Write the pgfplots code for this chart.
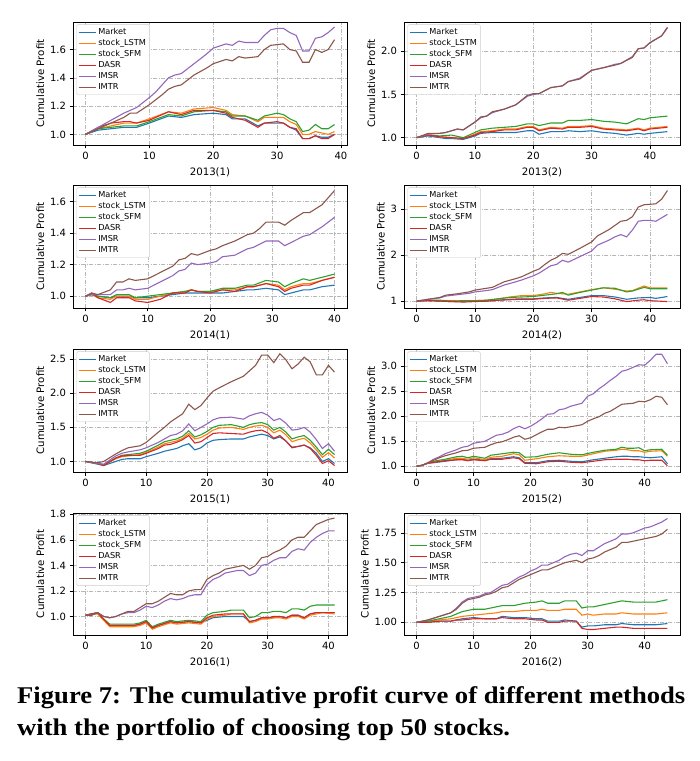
\documentclass[border=0pt]{standalone}
\usepackage{fontspec}
\setmainfont{DejaVu Sans}
\newfontfamily\capfont{Liberation Serif}
\usepackage{pgfplots}
\pgfplotsset{compat=1.18}
\definecolor{c0}{HTML}{1F77B4}
\definecolor{c1}{HTML}{FF7F0E}
\definecolor{c2}{HTML}{2CA02C}
\definecolor{c3}{HTML}{D62728}
\definecolor{c4}{HTML}{9467BD}
\definecolor{c5}{HTML}{8C564B}
\pgfplotsset{
  panel/.style={
    scale only axis, anchor=north west,
    width=274pt, height=123pt,
    xtick={0,10,20,30,40},
    grid=major,
    grid style={dash pattern=on 4pt off 1.5pt on 1pt off 1.5pt, black!28, line width=0.45pt},
    axis line style={line width=0.7pt},
    tick align=outside, tick pos=left, major tick length=3.5pt,
    tick style={black, line width=0.6pt},
    tick label style={font=\fontsize{10}{12}\selectfont},
    label style={font=\fontsize{10.2}{12}\selectfont},
    /pgf/number format/assume math mode=true,
    ylabel={Cumulative Profit},
    ylabel style={yshift=-1pt},
    xlabel style={yshift=-1.5pt},
    legend cell align=left,
    legend style={at={(0.012,0.98)}, anchor=north west, font=\fontsize{8.2}{9.4}\selectfont,
      draw=black!20, rounded corners=1.5pt, fill=white,
      row sep=-0.6pt, inner sep=1.6pt},
    every axis plot/.append style={line width=1.1pt, mark=none},
  },
  y1/.style={yticklabel style={/pgf/number format/.cd, fixed, fixed zerofill, precision=1}},
  y2/.style={yticklabel style={/pgf/number format/.cd, fixed, fixed zerofill, precision=2}},
}
\newcommand{\leg}{\legend{Market,stock\_LSTM,stock\_SFM,DASR,IMSR,IMTR}}
\begin{document}
\begin{tikzpicture}[x=1pt,y=1pt]
\path[use as bounding box] (0,0) rectangle (700,-761);

% ---------------- 2013(1)
\begin{axis}[panel, y1, at={(73pt,-22pt)}, xmin=-1.95, xmax=40.95, ymin=0.925, ymax=1.795,
  ytick={1.0,1.2,1.4,1.6}, xlabel={2013(1)}]
\addplot[color=c0] coordinates {(0,1.0)(2,1.03)(4,1.04)(6,1.05)(8,1.05)(10,1.08)(13,1.13)(15,1.12)(17,1.14)(20,1.15)(22,1.14)(23,1.11)(25,1.11)(27,1.06)(28,1.08)(30,1.08)(31,1.08)(32,1.05)(33,1.03)(34,0.97)(35,0.97)(36,0.99)(37,0.98)(38,0.98)(39,1.00)};
\addplot[color=c1] coordinates {(0,1.0)(2,1.04)(4,1.06)(6,1.08)(8,1.08)(10,1.11)(13,1.16)(15,1.15)(17,1.18)(20,1.19)(22,1.17)(23,1.14)(25,1.13)(27,1.09)(28,1.12)(30,1.12)(31,1.12)(32,1.09)(33,1.07)(34,1.00)(35,1.00)(36,1.02)(37,1.01)(38,1.00)(39,1.02)};
\addplot[color=c2] coordinates {(0,1.0)(2,1.04)(4,1.05)(6,1.06)(8,1.06)(10,1.09)(13,1.14)(15,1.13)(17,1.16)(20,1.17)(22,1.16)(23,1.13)(25,1.13)(27,1.10)(28,1.13)(30,1.15)(31,1.14)(32,1.11)(33,1.09)(34,1.02)(35,1.03)(36,1.07)(37,1.04)(38,1.04)(39,1.07)};
\addplot[color=c3] coordinates {(0,1.0)(2,1.05)(4,1.08)(6,1.09)(7,1.09)(8,1.08)(10,1.10)(13,1.16)(15,1.14)(17,1.17)(20,1.17)(22,1.15)(23,1.12)(25,1.10)(27,1.05)(28,1.08)(30,1.09)(31,1.08)(32,1.05)(33,1.04)(34,0.97)(35,0.97)(36,0.99)(37,0.97)(38,0.97)(39,1.00)};
\addplot[color=c4] coordinates {(0,1.0)(2,1.05)(4,1.10)(6,1.15)(8,1.19)(10,1.26)(11,1.30)(13,1.40)(14,1.42)(15,1.43)(17,1.50)(19,1.57)(20,1.61)(22,1.64)(23,1.63)(24,1.66)(25,1.65)(27,1.65)(28,1.70)(29,1.74)(30,1.75)(31,1.75)(32,1.72)(33,1.70)(34,1.59)(35,1.59)(36,1.68)(37,1.69)(38,1.72)(39,1.76)};
\addplot[color=c5] coordinates {(0,1.0)(2,1.04)(4,1.08)(6,1.12)(7,1.15)(8,1.15)(10,1.21)(12,1.28)(13,1.32)(14,1.34)(15,1.35)(17,1.42)(19,1.47)(20,1.50)(22,1.53)(23,1.52)(24,1.55)(25,1.54)(27,1.55)(28,1.60)(29,1.63)(31,1.64)(32,1.60)(33,1.59)(34,1.51)(35,1.51)(36,1.60)(37,1.58)(38,1.60)(39,1.67)};
\leg
\end{axis}

% ---------------- 2013(2)
\begin{axis}[panel, y1, at={(404pt,-22pt)}, width=276pt, xmin=-2.15, xmax=45.15, ymin=0.915, ymax=2.34,
  ytick={1.0,1.5,2.0}, xlabel={2013(2)}]
\addplot[color=c0] coordinates {(0,1.0)(2,1.02)(4,1.00)(5,0.99)(6,0.99)(8,0.98)(10,1.02)(11,1.05)(13,1.06)(15,1.06)(17,1.06)(19,1.08)(20,1.08)(21,1.04)(23,1.07)(25,1.07)(26,1.08)(28,1.07)(30,1.08)(32,1.06)(34,1.05)(36,1.03)(38,1.05)(39,1.04)(40,1.05)(43,1.07)};
\addplot[color=c1] coordinates {(0,1.0)(2,1.03)(4,1.01)(6,1.00)(8,0.99)(10,1.04)(11,1.07)(13,1.08)(15,1.10)(17,1.10)(19,1.13)(20,1.13)(21,1.09)(23,1.12)(25,1.11)(26,1.13)(28,1.13)(30,1.14)(32,1.11)(34,1.10)(36,1.09)(38,1.11)(39,1.09)(40,1.11)(43,1.13)};
\addplot[color=c2] coordinates {(0,1.0)(2,1.03)(4,1.02)(6,1.03)(8,1.00)(10,1.06)(11,1.09)(13,1.11)(15,1.12)(17,1.13)(19,1.16)(20,1.16)(21,1.14)(23,1.17)(25,1.17)(26,1.20)(28,1.20)(30,1.21)(32,1.19)(34,1.18)(36,1.16)(38,1.22)(39,1.21)(40,1.23)(43,1.25)};
\addplot[color=c3] coordinates {(0,1.0)(2,1.03)(4,1.01)(6,1.00)(8,0.99)(10,1.03)(11,1.06)(13,1.07)(15,1.09)(17,1.09)(19,1.12)(20,1.12)(21,1.08)(23,1.11)(25,1.10)(26,1.12)(28,1.12)(30,1.13)(32,1.10)(34,1.09)(36,1.08)(38,1.10)(39,1.08)(40,1.10)(43,1.12)};
\addplot[color=c4] coordinates {(0,1.0)(2,1.04)(4,1.05)(5,1.06)(7,1.10)(8,1.09)(10,1.18)(11,1.23)(12,1.25)(13,1.29)(15,1.33)(17,1.38)(19,1.48)(20,1.50)(21,1.51)(23,1.58)(25,1.60)(26,1.65)(28,1.69)(30,1.78)(32,1.81)(34,1.85)(35,1.86)(37,1.94)(38,2.03)(39,2.04)(40,2.10)(42,2.18)(43,2.27)};
\addplot[color=c5] coordinates {(0,1.0)(2,1.05)(4,1.05)(5,1.06)(7,1.10)(8,1.09)(10,1.18)(11,1.24)(12,1.25)(13,1.30)(15,1.33)(17,1.38)(19,1.49)(20,1.51)(21,1.51)(23,1.58)(25,1.60)(26,1.65)(28,1.68)(30,1.78)(32,1.81)(34,1.84)(35,1.86)(37,1.93)(38,2.03)(39,2.04)(40,2.10)(42,2.18)(43,2.28)};
\leg
\end{axis}

% ---------------- 2014(1)
\begin{axis}[panel, y1, at={(73pt,-185pt)}, xmin=-2, xmax=42, ymin=0.925, ymax=1.705,
  ytick={1.0,1.2,1.4,1.6}, xlabel={2014(1)}]
\addplot[color=c0] coordinates {(0,1.0)(1,1.01)(2,1.00)(4,0.99)(5,1.00)(7,1.00)(8,0.99)(10,0.99)(12,1.00)(14,1.01)(16,1.02)(17,1.02)(18,1.02)(20,1.02)(22,1.02)(24,1.03)(26,1.04)(27,1.04)(29,1.05)(31,1.04)(32,1.01)(33,1.02)(35,1.04)(36,1.04)(38,1.06)(40,1.07)};
\addplot[color=c1] coordinates {(0,1.0)(1,1.01)(2,0.99)(4,0.98)(5,1.00)(7,1.00)(8,0.98)(10,0.98)(12,1.00)(14,1.02)(16,1.03)(17,1.04)(18,1.03)(20,1.03)(22,1.04)(24,1.04)(26,1.06)(27,1.06)(29,1.08)(31,1.07)(32,1.04)(33,1.06)(35,1.08)(36,1.08)(38,1.10)(40,1.12)};
\addplot[color=c2] coordinates {(0,1.0)(1,1.01)(2,1.00)(4,0.99)(5,1.01)(7,1.01)(8,0.99)(10,1.00)(12,1.01)(14,1.02)(16,1.03)(17,1.04)(18,1.03)(20,1.03)(22,1.05)(24,1.05)(26,1.07)(27,1.07)(29,1.10)(31,1.09)(32,1.06)(33,1.08)(35,1.11)(36,1.10)(38,1.12)(40,1.14)};
\addplot[color=c3] coordinates {(0,1.0)(1,1.02)(2,0.99)(4,0.96)(5,0.99)(7,0.99)(8,0.97)(10,0.96)(12,0.98)(14,1.02)(16,1.02)(17,1.04)(18,1.03)(20,1.02)(22,1.04)(24,1.03)(26,1.06)(27,1.06)(29,1.08)(31,1.06)(32,1.03)(33,1.05)(35,1.07)(36,1.07)(38,1.10)(40,1.12)};
\addplot[color=c4] coordinates {(0,1.0)(1,1.01)(2,1.01)(4,1.01)(5,1.04)(6,1.04)(7,1.05)(8,1.04)(10,1.05)(12,1.09)(14,1.13)(15,1.16)(16,1.17)(17,1.21)(18,1.20)(20,1.21)(21,1.22)(22,1.25)(24,1.26)(26,1.30)(27,1.31)(29,1.35)(31,1.35)(32,1.32)(33,1.34)(35,1.38)(36,1.39)(38,1.44)(40,1.50)};
\addplot[color=c5] coordinates {(0,1.0)(1,1.02)(2,1.01)(4,1.04)(5,1.09)(6,1.09)(7,1.11)(8,1.10)(10,1.11)(12,1.15)(14,1.19)(15,1.23)(16,1.24)(17,1.27)(18,1.26)(20,1.29)(21,1.30)(22,1.32)(24,1.35)(26,1.39)(27,1.40)(28,1.43)(29,1.47)(31,1.47)(32,1.45)(33,1.48)(35,1.53)(36,1.53)(38,1.58)(40,1.67)};
\leg
\end{axis}

% ---------------- 2014(2)
\begin{axis}[panel, at={(404pt,-185pt)}, width=276pt, xmin=-2.15, xmax=45.15, ymin=0.85, ymax=3.53,
  ytick={1,2,3}, xlabel={2014(2)}]
\addplot[color=c0] coordinates {(0,1.0)(2,1.01)(4,1.00)(6,0.99)(8,0.99)(10,1.00)(12,1.00)(14,1.02)(16,1.04)(18,1.05)(20,1.05)(22,1.07)(24,1.08)(26,1.04)(28,1.08)(30,1.12)(32,1.12)(34,1.09)(36,1.04)(38,1.07)(40,1.08)(41,1.06)(43,1.10)};
\addplot[color=c1] coordinates {(0,1.0)(2,1.02)(4,1.01)(6,1.01)(8,1.00)(10,1.01)(12,1.02)(14,1.05)(16,1.09)(18,1.12)(20,1.12)(22,1.16)(23,1.19)(24,1.17)(26,1.15)(28,1.20)(30,1.25)(32,1.29)(34,1.26)(36,1.22)(37,1.23)(39,1.33)(40,1.29)(43,1.29)};
\addplot[color=c2] coordinates {(0,1.0)(2,1.02)(4,1.02)(6,1.00)(8,1.01)(10,1.01)(12,1.02)(14,1.05)(16,1.08)(18,1.09)(20,1.10)(22,1.13)(24,1.16)(25,1.19)(26,1.13)(28,1.19)(30,1.24)(32,1.29)(34,1.28)(36,1.20)(37,1.22)(39,1.30)(40,1.27)(43,1.27)};
\addplot[color=c3] coordinates {(0,1.0)(2,1.01)(4,1.00)(6,0.99)(8,0.98)(10,0.99)(12,1.00)(14,1.02)(16,1.03)(18,1.04)(20,1.04)(22,1.06)(24,1.07)(26,1.02)(28,1.06)(30,1.10)(32,1.09)(34,1.05)(36,0.99)(38,1.02)(39,1.03)(40,1.01)(43,0.99)};
\addplot[color=c4] coordinates {(0,1.0)(2,1.04)(4,1.07)(5,1.11)(7,1.14)(9,1.17)(10,1.20)(12,1.23)(13,1.25)(15,1.35)(17,1.42)(18,1.46)(20,1.55)(21,1.61)(22,1.69)(23,1.77)(24,1.80)(25,1.89)(26,1.85)(28,1.97)(30,2.09)(31,2.22)(33,2.33)(34,2.40)(35,2.45)(36,2.40)(37,2.55)(38,2.74)(39,2.76)(40,2.76)(41,2.74)(43,2.89)};
\addplot[color=c5] coordinates {(0,1.0)(2,1.04)(4,1.08)(5,1.13)(7,1.16)(9,1.20)(10,1.24)(12,1.28)(13,1.30)(15,1.42)(17,1.49)(18,1.53)(20,1.65)(21,1.70)(22,1.80)(23,1.89)(24,1.95)(25,2.04)(26,2.02)(28,2.15)(30,2.29)(31,2.42)(33,2.56)(35,2.74)(36,2.76)(37,2.84)(38,3.05)(39,3.10)(41,3.12)(42,3.22)(43,3.41)};
\leg
\end{axis}

% ---------------- 2015(1)
\begin{axis}[panel, y1, at={(73pt,-349pt)}, xmin=-2.05, xmax=43.05, ymin=0.845, ymax=2.65,
  ytick={1.0,1.5,2.0,2.5}, xlabel={2015(1)}]
\addplot[color=c0] coordinates {(0,1.0)(2,0.96)(3,0.94)(5,1.00)(6,1.03)(7,1.04)(9,1.04)(10,1.07)(12,1.12)(13,1.15)(14,1.17)(15,1.19)(16,1.23)(17,1.26)(18,1.17)(19,1.20)(20,1.27)(21,1.31)(22,1.32)(24,1.33)(26,1.33)(27,1.36)(28,1.38)(29,1.40)(30,1.38)(31,1.33)(32,1.36)(33,1.30)(34,1.21)(35,1.22)(36,1.24)(37,1.20)(38,1.12)(39,1.00)(40,1.04)(41,0.97)};
\addplot[color=c1] coordinates {(0,1.0)(2,0.97)(3,0.95)(5,1.04)(6,1.07)(7,1.08)(9,1.10)(10,1.13)(12,1.21)(13,1.26)(14,1.28)(15,1.30)(16,1.34)(17,1.41)(18,1.33)(19,1.35)(20,1.40)(21,1.46)(22,1.49)(24,1.50)(26,1.47)(27,1.50)(28,1.52)(29,1.53)(30,1.50)(31,1.42)(32,1.46)(33,1.39)(34,1.29)(35,1.32)(36,1.34)(37,1.27)(38,1.17)(39,1.06)(40,1.13)(41,1.05)};
\addplot[color=c2] coordinates {(0,1.0)(2,0.97)(3,0.95)(5,1.05)(6,1.09)(7,1.10)(9,1.12)(10,1.15)(12,1.24)(13,1.29)(14,1.31)(15,1.33)(16,1.37)(17,1.45)(18,1.36)(19,1.39)(20,1.44)(21,1.50)(22,1.53)(24,1.54)(26,1.50)(27,1.54)(28,1.56)(29,1.57)(30,1.54)(31,1.46)(32,1.50)(33,1.43)(34,1.33)(35,1.36)(36,1.38)(37,1.31)(38,1.21)(39,1.10)(40,1.18)(41,1.10)};
\addplot[color=c3] coordinates {(0,1.0)(2,0.97)(3,0.94)(5,1.05)(6,1.08)(7,1.09)(9,1.09)(10,1.12)(12,1.19)(13,1.24)(14,1.25)(15,1.28)(16,1.32)(17,1.38)(18,1.27)(19,1.29)(20,1.35)(21,1.41)(22,1.42)(24,1.41)(26,1.40)(27,1.43)(28,1.45)(29,1.46)(30,1.42)(31,1.34)(32,1.38)(33,1.30)(34,1.20)(35,1.22)(36,1.24)(37,1.19)(38,1.09)(39,0.97)(40,1.01)(41,0.94)};
\addplot[color=c4] coordinates {(0,1.0)(2,0.97)(3,0.96)(5,1.08)(6,1.12)(7,1.14)(9,1.17)(10,1.20)(12,1.28)(13,1.33)(14,1.38)(15,1.40)(16,1.45)(17,1.55)(18,1.45)(19,1.50)(20,1.55)(21,1.61)(22,1.64)(24,1.65)(26,1.62)(27,1.67)(28,1.70)(29,1.72)(30,1.68)(31,1.60)(32,1.63)(33,1.56)(34,1.46)(35,1.47)(36,1.50)(37,1.43)(38,1.32)(39,1.19)(40,1.26)(41,1.15)};
\addplot[color=c5] coordinates {(0,1.0)(2,0.98)(3,1.00)(5,1.11)(6,1.16)(7,1.20)(9,1.23)(10,1.28)(12,1.43)(13,1.50)(14,1.58)(15,1.64)(16,1.70)(17,1.84)(18,1.76)(19,1.82)(20,1.93)(21,2.03)(22,2.08)(24,2.17)(26,2.25)(27,2.33)(28,2.41)(29,2.56)(30,2.56)(31,2.45)(32,2.58)(33,2.49)(34,2.36)(35,2.43)(36,2.53)(37,2.46)(38,2.27)(39,2.27)(40,2.41)(41,2.31)};
\leg
\end{axis}

% ---------------- 2015(2)
\begin{axis}[panel, y1, at={(404pt,-349pt)}, width=276pt, xmin=-2.2, xmax=46.2, ymin=0.885, ymax=3.345,
  ytick={1.0,1.5,2.0,2.5,3.0}, xlabel={2015(2)}]
\addplot[color=c0] coordinates {(0,1.0)(1,1.02)(2,1.06)(3,1.07)(5,1.10)(7,1.13)(8,1.14)(9,1.12)(10,1.14)(12,1.12)(13,1.15)(15,1.16)(17,1.19)(18,1.17)(19,1.07)(21,1.07)(23,1.11)(25,1.12)(27,1.10)(29,1.09)(31,1.13)(33,1.16)(35,1.19)(36,1.20)(37,1.20)(38,1.19)(39,1.19)(40,1.18)(41,1.17)(43,1.19)(44,1.05)};
\addplot[color=c1] coordinates {(0,1.0)(1,1.02)(2,1.06)(3,1.08)(5,1.12)(7,1.16)(8,1.16)(9,1.14)(10,1.17)(12,1.13)(13,1.18)(15,1.20)(17,1.25)(18,1.23)(19,1.12)(21,1.15)(23,1.19)(25,1.21)(27,1.20)(29,1.20)(31,1.25)(33,1.30)(35,1.32)(36,1.34)(37,1.33)(38,1.31)(39,1.31)(40,1.28)(41,1.30)(43,1.31)(44,1.20)};
\addplot[color=c2] coordinates {(0,1.0)(1,1.02)(2,1.07)(3,1.10)(5,1.14)(7,1.19)(8,1.20)(9,1.17)(10,1.20)(12,1.16)(13,1.22)(15,1.25)(17,1.28)(18,1.27)(19,1.18)(21,1.19)(23,1.24)(25,1.27)(27,1.24)(29,1.23)(31,1.28)(33,1.32)(35,1.34)(36,1.38)(37,1.36)(38,1.36)(39,1.37)(40,1.31)(41,1.33)(43,1.34)(44,1.22)};
\addplot[color=c3] coordinates {(0,1.0)(1,1.02)(2,1.06)(3,1.08)(5,1.11)(7,1.13)(8,1.13)(9,1.11)(10,1.13)(12,1.11)(13,1.14)(15,1.14)(17,1.17)(18,1.15)(19,1.06)(21,1.05)(23,1.09)(25,1.10)(27,1.08)(29,1.07)(31,1.10)(33,1.13)(35,1.14)(36,1.14)(37,1.14)(38,1.13)(39,1.13)(40,1.11)(41,1.12)(43,1.12)(44,1.01)};
\addplot[color=c4] coordinates {(0,1.0)(1,1.02)(2,1.07)(3,1.14)(4,1.19)(5,1.25)(7,1.33)(8,1.38)(9,1.40)(10,1.46)(12,1.50)(13,1.56)(14,1.62)(15,1.64)(16,1.68)(17,1.75)(18,1.80)(19,1.75)(20,1.80)(21,1.87)(22,1.95)(23,2.04)(24,2.05)(25,2.13)(26,2.15)(27,2.20)(29,2.26)(30,2.40)(31,2.45)(32,2.55)(33,2.63)(34,2.72)(35,2.80)(36,2.90)(37,2.93)(38,2.98)(39,3.03)(40,3.02)(41,3.12)(42,3.24)(43,3.24)(44,3.05)};
\addplot[color=c5] coordinates {(0,1.0)(1,1.02)(2,1.07)(3,1.12)(4,1.17)(5,1.21)(7,1.27)(8,1.31)(9,1.32)(10,1.36)(12,1.38)(13,1.43)(14,1.47)(15,1.49)(16,1.53)(17,1.58)(18,1.61)(19,1.54)(20,1.57)(21,1.63)(22,1.69)(23,1.74)(24,1.74)(25,1.78)(26,1.77)(27,1.79)(29,1.83)(30,1.90)(31,1.95)(32,1.99)(33,2.06)(34,2.10)(35,2.17)(36,2.24)(37,2.25)(38,2.26)(39,2.30)(40,2.29)(41,2.33)(42,2.40)(43,2.38)(44,2.23)};
\leg
\end{axis}

% ---------------- 2016(1)
\begin{axis}[panel, y1, at={(73pt,-513pt)}, height=122pt, xmin=-2.05, xmax=43.05, ymin=0.855, ymax=1.81,
  ytick={1.0,1.2,1.4,1.6,1.8}, xlabel={2016(1)}]
\addplot[color=c0] coordinates {(0,1.01)(2,1.03)(3,0.98)(4,0.93)(6,0.93)(8,0.93)(9,0.94)(10,0.96)(11,0.91)(12,0.93)(14,0.96)(15,0.95)(17,0.96)(19,0.95)(20,0.97)(21,0.99)(23,1.00)(24,1.00)(26,1.00)(27,0.96)(28,0.97)(29,0.99)(30,0.99)(31,0.99)(32,1.00)(33,0.99)(34,1.01)(35,1.01)(36,0.99)(37,1.02)(38,1.03)(39,1.03)(41,1.03)};
\addplot[color=c1] coordinates {(0,1.01)(2,1.02)(3,0.97)(4,0.92)(6,0.92)(8,0.92)(9,0.93)(10,0.95)(11,0.90)(12,0.92)(14,0.95)(15,0.94)(17,0.95)(19,0.94)(20,0.98)(21,1.00)(23,1.01)(24,1.02)(26,1.02)(27,0.95)(28,0.96)(29,0.98)(30,0.98)(31,0.99)(32,0.99)(33,0.98)(34,1.00)(35,1.00)(36,0.98)(37,1.01)(38,1.02)(39,1.03)(41,1.02)};
\addplot[color=c2] coordinates {(0,1.01)(2,1.03)(3,0.98)(4,0.94)(6,0.94)(8,0.94)(9,0.95)(10,0.97)(11,0.92)(12,0.94)(14,0.97)(15,0.96)(17,0.97)(19,0.96)(20,1.01)(21,1.03)(23,1.04)(24,1.05)(26,1.05)(27,0.99)(28,1.00)(29,1.03)(30,1.03)(31,1.04)(32,1.04)(33,1.03)(34,1.06)(35,1.06)(36,1.05)(37,1.08)(38,1.09)(39,1.09)(41,1.09)};
\addplot[color=c3] coordinates {(0,1.01)(2,1.03)(3,0.98)(4,0.93)(6,0.93)(8,0.93)(9,0.94)(10,0.96)(11,0.91)(12,0.93)(14,0.96)(15,0.95)(17,0.96)(19,0.95)(20,0.99)(21,1.01)(23,1.02)(24,1.02)(26,1.02)(27,0.96)(28,0.97)(29,0.99)(30,0.99)(31,1.00)(32,1.00)(33,0.99)(34,1.01)(35,1.01)(36,0.99)(37,1.02)(38,1.03)(39,1.03)(41,1.03)};
\addplot[color=c4] coordinates {(0,1.01)(1,1.01)(2,1.03)(3,1.00)(4,0.99)(5,1.00)(6,1.02)(7,1.03)(8,1.03)(9,1.05)(10,1.08)(11,1.07)(12,1.09)(13,1.12)(14,1.14)(15,1.13)(16,1.14)(17,1.16)(18,1.17)(19,1.17)(20,1.25)(21,1.29)(22,1.31)(23,1.34)(24,1.35)(25,1.36)(26,1.36)(27,1.32)(28,1.34)(29,1.40)(30,1.41)(31,1.44)(32,1.46)(33,1.46)(34,1.51)(35,1.53)(36,1.52)(37,1.58)(38,1.62)(39,1.65)(40,1.67)(41,1.67)};
\addplot[color=c5] coordinates {(0,1.01)(1,1.01)(2,1.03)(3,1.00)(4,0.99)(5,1.00)(6,1.02)(7,1.04)(8,1.04)(9,1.07)(10,1.10)(11,1.10)(12,1.12)(13,1.15)(14,1.18)(15,1.17)(16,1.17)(17,1.20)(18,1.21)(19,1.21)(20,1.29)(21,1.32)(22,1.34)(23,1.37)(24,1.38)(25,1.39)(26,1.40)(27,1.37)(28,1.40)(29,1.46)(30,1.47)(31,1.50)(32,1.52)(33,1.55)(34,1.60)(35,1.62)(36,1.62)(37,1.67)(38,1.72)(39,1.74)(40,1.76)(41,1.77)};
\leg
\end{axis}

% ---------------- 2016(2)
\begin{axis}[panel, y2, at={(404pt,-513pt)}, width=276pt, height=122pt, xmin=-2.2, xmax=46.2, ymin=0.894, ymax=1.916,
  ytick={1.00,1.25,1.50,1.75}, xlabel={2016(2)}]
\addplot[color=c0] coordinates {(0,1.0)(2,1.00)(4,1.01)(6,1.01)(7,1.02)(8,1.03)(10,1.04)(12,1.03)(14,1.03)(15,1.05)(17,1.04)(19,1.04)(21,1.03)(22,1.03)(23,1.01)(25,1.01)(26,1.02)(28,1.01)(29,0.96)(30,0.97)(31,0.97)(33,0.98)(35,0.98)(36,0.99)(38,0.98)(40,0.98)(42,0.98)(44,0.99)};
\addplot[color=c1] coordinates {(0,1.0)(2,1.01)(4,1.02)(6,1.03)(7,1.04)(8,1.05)(10,1.06)(12,1.07)(14,1.08)(15,1.09)(17,1.09)(19,1.10)(21,1.10)(22,1.11)(23,1.10)(25,1.10)(26,1.11)(28,1.11)(29,1.06)(30,1.07)(31,1.06)(33,1.07)(35,1.07)(36,1.08)(38,1.07)(40,1.07)(42,1.07)(44,1.08)};
\addplot[color=c2] coordinates {(0,1.0)(2,1.01)(4,1.03)(6,1.05)(7,1.07)(8,1.09)(10,1.11)(12,1.11)(14,1.13)(15,1.14)(17,1.14)(19,1.16)(21,1.17)(22,1.18)(23,1.16)(25,1.16)(26,1.18)(28,1.18)(29,1.12)(30,1.13)(31,1.13)(33,1.15)(35,1.17)(36,1.18)(38,1.17)(40,1.17)(42,1.17)(43,1.18)(44,1.19)};
\addplot[color=c3] coordinates {(0,1.0)(2,1.00)(4,1.01)(6,1.01)(7,1.02)(8,1.02)(10,1.03)(12,1.03)(14,1.03)(15,1.04)(17,1.03)(19,1.03)(21,1.02)(22,1.02)(23,1.00)(25,1.00)(26,1.01)(28,1.01)(29,0.95)(30,0.94)(31,0.94)(33,0.95)(35,0.96)(36,0.96)(38,0.95)(40,0.95)(42,0.95)(44,0.95)};
\addplot[color=c4] coordinates {(0,1.0)(2,1.02)(4,1.05)(6,1.08)(7,1.12)(8,1.17)(9,1.20)(10,1.21)(11,1.22)(12,1.24)(13,1.25)(14,1.28)(15,1.31)(16,1.32)(17,1.35)(18,1.38)(19,1.40)(20,1.43)(21,1.45)(22,1.48)(23,1.48)(24,1.50)(25,1.52)(26,1.55)(27,1.57)(28,1.58)(29,1.56)(30,1.60)(31,1.60)(32,1.63)(33,1.66)(34,1.68)(35,1.70)(36,1.74)(37,1.74)(38,1.75)(39,1.77)(40,1.79)(41,1.80)(42,1.82)(43,1.84)(44,1.87)};
\addplot[color=c5] coordinates {(0,1.0)(2,1.02)(4,1.05)(6,1.08)(7,1.11)(8,1.16)(9,1.19)(10,1.20)(11,1.21)(12,1.23)(13,1.24)(14,1.26)(15,1.29)(16,1.30)(17,1.33)(18,1.36)(19,1.38)(20,1.40)(21,1.42)(22,1.44)(23,1.44)(24,1.46)(25,1.48)(26,1.50)(27,1.51)(28,1.52)(29,1.50)(30,1.53)(31,1.54)(32,1.56)(33,1.59)(34,1.61)(35,1.63)(36,1.67)(37,1.67)(38,1.68)(39,1.69)(40,1.70)(41,1.71)(42,1.72)(43,1.74)(44,1.78)};
\leg
\end{axis}

\node[anchor=base west, inner sep=0pt, font=\capfont\bfseries\fontsize{24}{30}\selectfont] at (17,-703) {\scalebox{1.11}[1]{Figure 7: The cumulative profit curve of different methods}};
\node[anchor=base west, inner sep=0pt, font=\capfont\bfseries\fontsize{24}{30}\selectfont] at (17,-735) {\scalebox{1.11}[1]{with the portfolio of choosing top 50 stocks.}};
\end{tikzpicture}
\end{document}
